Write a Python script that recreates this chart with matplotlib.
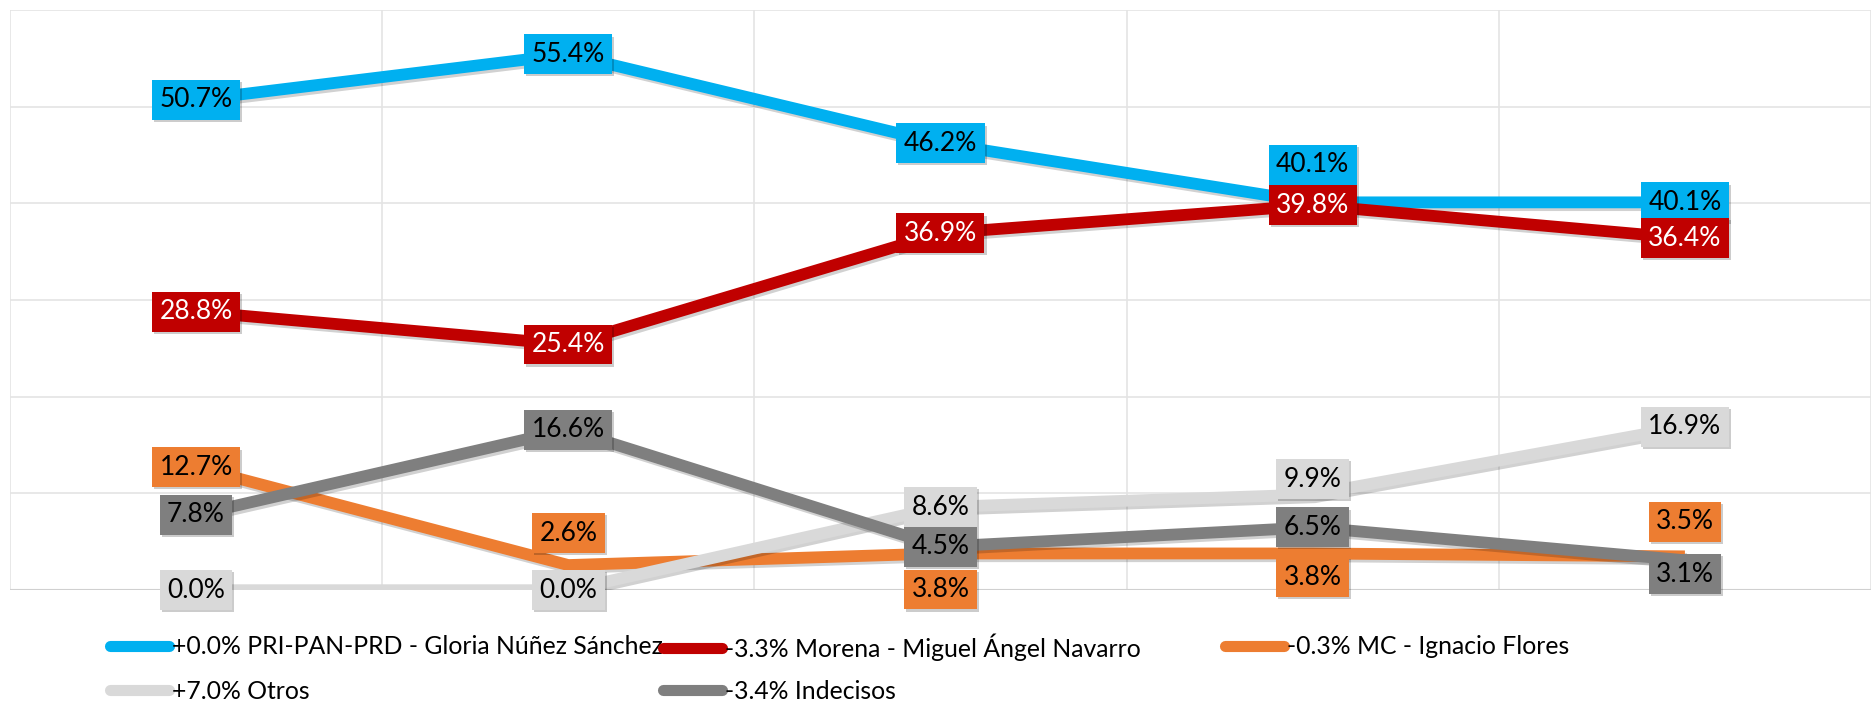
"""Tracking poll chart: five series across five survey waves with boxed data labels."""
import matplotlib

matplotlib.use("Agg")
import matplotlib.pyplot as plt
import matplotlib.patheffects as pe
from matplotlib.lines import Line2D

plt.rcParams["font.family"] = ["Lato", "DejaVu Sans"]

# --- data ---------------------------------------------------------------
waves = [0, 1, 2, 3, 4]
pri_pan_prd = [50.7, 55.4, 46.2, 40.1, 40.1]
morena = [28.8, 25.4, 36.9, 39.8, 36.4]
mc = [12.7, 2.6, 3.8, 3.8, 3.5]
otros = [0.0, 0.0, 8.6, 9.9, 16.9]
indecisos = [7.8, 16.6, 4.5, 6.5, 3.1]

legend_labels = [
    "+0.0% PRI-PAN-PRD - Gloria Núñez Sánchez",
    "-3.3% Morena - Miguel Ángel Navarro",
    "-0.3% MC - Ignacio Flores",
    "+7.0% Otros",
    "-3.4% Indecisos",
]

# --- styling --------------------------------------------------------------
COLORS = ["#00B0F0", "#C00000", "#ED7D31", "#D9D9D9", "#7F7F7F"]
TEXT_COLORS = ["black", "white", "black", "black", "black"]
# vertical nudge of each data label in points (positive = up)
LABEL_OFFSETS = [
    [0, 0, 0, 27, 0],
    [0, 0, 0, 0, 0],
    [0, 23, -26, -17, 25],
    [0, 0, 0, 11, 0],
    [0, 0, 0, 0, -10],
]
GRID = "#E4E4E4"

series = [pri_pan_prd, morena, mc, otros, indecisos]

fig = plt.figure(figsize=(18.74, 7.06), dpi=100)
ax = fig.add_axes([0.0053, 0.164, 0.9931, 0.822])

shadow = [pe.SimpleLineShadow(offset=(1.5, -2), shadow_color="black", alpha=0.18), pe.Normal()]
handles = []
for i, values in enumerate(series):
    ax.plot(waves, values, color=COLORS[i], lw=8.5, solid_capstyle="butt",
            solid_joinstyle="miter", zorder=3 + i, path_effects=shadow)
    handles.append(Line2D([], [], color=COLORS[i], lw=8, solid_capstyle="round"))

for i, values in enumerate(series):
    for j, v in enumerate(values):
        t = ax.annotate(f"{v:.1f}%", (waves[j], v), xytext=(0, LABEL_OFFSETS[i][j]),
                        textcoords="offset points", ha="center", va="center",
                        fontsize=19, color=TEXT_COLORS[i], zorder=20,
                        bbox=dict(boxstyle="square,pad=0.28", fc=COLORS[i], ec="none"))
        t.get_bbox_patch().set_path_effects(
            [pe.withSimplePatchShadow(offset=(1.5, -1.5), shadow_rgbFace="black", alpha=0.2)])

ax.set_xlim(-0.5, 4.5)
ax.set_ylim(0, 60)
for y in range(0, 61, 10):
    ax.axhline(y, color=GRID, lw=1.2, zorder=1)
for x in [-0.5, 0.5, 1.5, 2.5, 3.5, 4.5]:
    ax.axvline(x, color=GRID, lw=1.2, zorder=1)
ax.axhline(0, color="#D0D0D0", lw=1.5, zorder=1)
ax.set_xticks([])
ax.set_yticks([])
for s in ax.spines.values():
    s.set_visible(False)

# legend entries laid out like the spreadsheet legend: 3 columns, 2 rows
legend_slots = [(0.0587, 0.0836), (0.3538, 0.0836), (0.6537, 0.0836),
                (0.0587, 0.0212), (0.3538, 0.0212)]
for h, lab, (x, y) in zip(handles, legend_labels, legend_slots):
    fig.legend(handles=[h], labels=[lab], loc="center left", bbox_to_anchor=(x, y),
               frameon=False, fontsize=17.8, handlelength=2.4, handletextpad=0.1,
               borderpad=0, borderaxespad=0)

fig.savefig("out.png", dpi=100)
